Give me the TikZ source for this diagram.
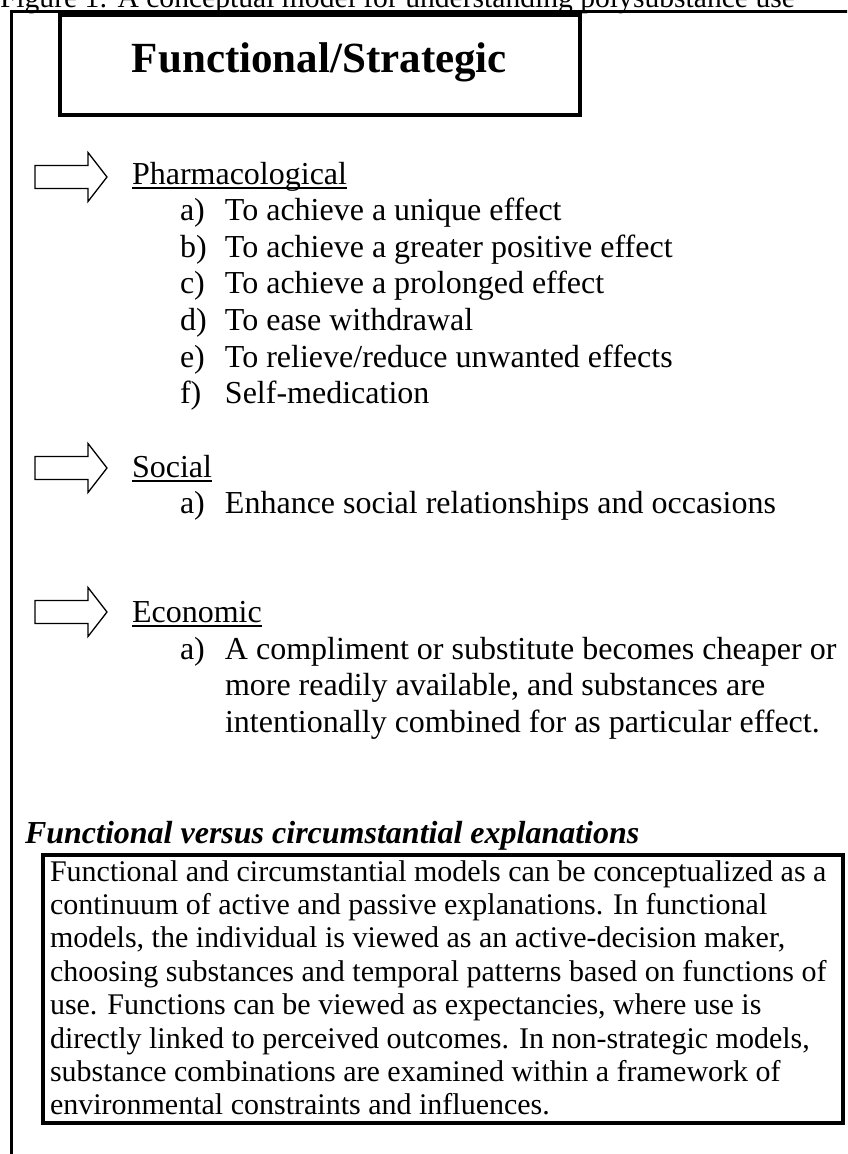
\documentclass[tikz,border=0pt]{standalone}
\usepackage{fontspec}
\setmainfont{Liberation Serif}
\begin{document}
\begin{tikzpicture}[x=1pt,y=-1pt,
  txt/.style={inner sep=0pt, outer sep=0pt, anchor=base west},
  body/.style={txt, font=\fontsize{32}{36.6}\selectfont},
  boxtext/.style={txt, font=\fontsize{30}{33.4}\selectfont},
  uline/.style={line width=1.4pt},
  barrow/.style={draw=black, line width=1.3pt, line join=miter},
  frameline/.style={line width=2.2pt},
  titlebox/.style={draw, line width=4pt, minimum width=520pt, minimum height=99.5pt, inner sep=0pt},
  expbox/.style={draw, line width=3.5pt, minimum width=800pt, minimum height=268pt, inner sep=0pt},
  blockarrow/.pic={\draw[barrow] (0,-11.5) -- (53,-11.5) -- (53,-24.5) -- (72,0) -- (53,24.5) -- (53,11.5) -- (0,11.5) -- cycle;}
]
\useasboundingbox (0,0) rectangle (847,1154);
\clip (0,0) rectangle (847,1154);

% caption (cut off at the top)
\node[txt, font=\fontsize{29.6}{34}\selectfont] (caption) at (0,7) {Figure 1: A conceptual model for understanding polysubstance use};

% frame
\draw[frameline] (850,11.5) -- (11.5,11.5) -- (11.5,1160);

% title
\node[titlebox] (tbox) at (319.5,64.75) {};
\node[anchor=base, inner sep=0pt, font=\fontsize{43}{48}\selectfont\bfseries] (title) at (319.5,72) {Functional/Strategic};

% Pharmacological
\pic at (35,177) {blockarrow};
\node[body] (pharm) at (132,184) {Pharmacological};
\draw[uline] ([yshift=-4pt]pharm.base west) -- ([yshift=-4pt]pharm.base east);
\node[body] (pa) at (180,220.6) {\makebox[45pt][l]{a)}To achieve a unique effect};
\node[body] (pb) at (180,257.2) {\makebox[45pt][l]{b)}To achieve a greater positive effect};
\node[body] (pc) at (180,293.8) {\makebox[45pt][l]{c)}To achieve a prolonged effect};
\node[body] (pd) at (180,330.4) {\makebox[45pt][l]{d)}To ease withdrawal};
\node[body] (pe) at (180,367.0) {\makebox[45pt][l]{e)}To relieve/reduce unwanted effects};
\node[body] (pf) at (180,403.6) {\makebox[45pt][l]{f)}Self-medication};

% Social
\pic at (35,468) {blockarrow};
\node[body] (soc) at (132,477) {Social};
\draw[uline] ([yshift=-4pt]soc.base west) -- ([yshift=-4pt]soc.base east);
\node[body] (sa) at (180,513.6) {\makebox[45pt][l]{a)}Enhance social relationships and occasions};

% Economic
\pic at (35,612) {blockarrow};
\node[body] (eco) at (132,622) {Economic};
\draw[uline] ([yshift=-4pt]eco.base west) -- ([yshift=-4pt]eco.base east);
\node[body] (ea) at (180,659) {\makebox[45pt][l]{a)}\vtop{\hbox{A compliment or substitute becomes cheaper or}\hbox{more readily available, and substances are}\hbox{intentionally combined for as particular effect.}}};

% explanation
\node[txt, font=\fontsize{32}{36.6}\selectfont\bfseries\itshape] (fvc) at (25,843) {Functional versus circumstantial explanations};
\node[expbox] (ebox) at (443,989) {};
\node[boxtext] (etext) at (50,881) {\vtop{%
\hbox{Functional and circumstantial models can be conceptualized as a}
\hbox{continuum of active and passive explanations. In functional}
\hbox{models, the individual is viewed as an active-decision maker,}
\hbox{choosing substances and temporal patterns based on functions of}
\hbox{use. Functions can be viewed as expectancies, where use is}
\hbox{directly linked to perceived outcomes. In non-strategic models,}
\hbox{substance combinations are examined within a framework of}
\hbox{environmental constraints and influences.}}};
\end{tikzpicture}
\end{document}
